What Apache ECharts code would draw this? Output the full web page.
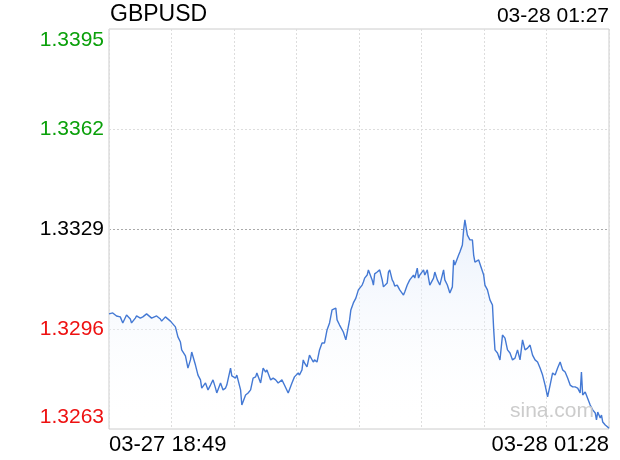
<!DOCTYPE html>
<html>
<head>
<meta charset="utf-8">
<script src="https://cdn.jsdelivr.net/npm/echarts@6/dist/echarts.min.js"></script>
<style>
  html, body { margin: 0; padding: 0; background: #fff; }
  #chart { width: 620px; height: 460px; }
</style>
</head>
<body>
<div id="chart"></div>
<script>
// minutes after 03-27 18:49
const minutes = [
  0, 3, 6, 9, 11, 14, 17, 18, 21, 22, 25, 27, 30, 31, 34, 35, 38, 39, 41, 42,
  45, 46, 49, 50, 53, 55, 57, 58, 61, 63, 65, 66, 69, 71, 73, 74, 77, 79, 81, 83,
  85, 86, 89, 91, 93, 94, 97, 98, 101, 102, 105, 106, 109, 111, 113, 115, 117, 118, 121, 123,
  125, 126, 129, 131, 133, 135, 138, 140, 143, 146, 148, 151, 152, 154, 155, 156, 158, 160, 163, 164,
  166, 168, 170, 172, 174, 176, 178, 181, 182, 184, 187, 189, 192, 193, 195, 197, 199, 200, 202, 203,
  204, 206, 207, 208, 210, 211, 212, 214, 216, 218, 219, 220, 222, 223, 224, 226, 227, 228, 230, 232,
  235, 236, 238, 240, 243, 244, 246, 247, 248, 251, 252, 254, 255, 256, 259, 260, 262, 264, 267, 268,
  270, 272, 274, 275, 276, 279, 280, 282, 283, 284, 286, 288, 290, 291, 292, 295, 296, 299, 300, 302,
  304, 306, 307, 308, 310, 312, 314, 316, 318, 320, 322, 324, 326, 328, 330, 332, 334, 336, 338, 340,
  342, 344, 346, 348, 350, 352, 354, 356, 358, 360, 362, 364, 366, 368, 370, 372, 374, 376, 377, 378,
  380, 381, 384, 386, 388, 389, 390, 392, 393, 394, 396, 397, 399
];
const prices = [
  1.33010, 1.33013, 1.33003, 1.33000, 1.32980, 1.33006, 1.32993, 1.32980, 1.32996, 1.33003,
  1.32996, 1.33000, 1.33010, 1.33013, 1.32996, 1.32990, 1.33003, 1.33003, 1.32993, 1.32986,
  1.33000, 1.33006, 1.32986, 1.32983, 1.32967, 1.32934, 1.32917, 1.32891, 1.32871, 1.32831,
  1.32858, 1.32884, 1.32841, 1.32808, 1.32792, 1.32765, 1.32782, 1.32759, 1.32775, 1.32792,
  1.32765, 1.32749, 1.32782, 1.32759, 1.32765, 1.32775, 1.32831, 1.32805, 1.32798, 1.32808,
  1.32759, 1.32709, 1.32742, 1.32749, 1.32759, 1.32798, 1.32802, 1.32815, 1.32782, 1.32831,
  1.32818, 1.32825, 1.32792, 1.32798, 1.32792, 1.32782, 1.32792, 1.32775, 1.32749, 1.32782,
  1.32802, 1.32815, 1.32808, 1.32825, 1.32858, 1.32848, 1.32835, 1.32874, 1.32851, 1.32858,
  1.32851, 1.32891, 1.32914, 1.32914, 1.32957, 1.32980, 1.33023, 1.33029, 1.32990, 1.32973,
  1.32950, 1.32924, 1.32990, 1.33023, 1.33046, 1.33062, 1.33089, 1.33095, 1.33105, 1.33115,
  1.33128, 1.33138, 1.33155, 1.33155, 1.33122, 1.33105, 1.33142, 1.33148, 1.33155, 1.33122,
  1.33099, 1.33105, 1.33112, 1.33148, 1.33155, 1.33122, 1.33115, 1.33102, 1.33105, 1.33089,
  1.33072, 1.33082, 1.33105, 1.33122, 1.33138, 1.33128, 1.33161, 1.33128, 1.33138, 1.33155,
  1.33138, 1.33155, 1.33128, 1.33105, 1.33128, 1.33148, 1.33122, 1.33105, 1.33155, 1.33122,
  1.33105, 1.33079, 1.33099, 1.33188, 1.33171, 1.33204, 1.33214, 1.33237, 1.33287, 1.33320,
  1.33270, 1.33254, 1.33254, 1.33204, 1.33181, 1.33188, 1.33188, 1.33138, 1.33105, 1.33089,
  1.33056, 1.33039, 1.32957, 1.32891, 1.32881, 1.32858, 1.32940, 1.32930, 1.32891, 1.32881,
  1.32858, 1.32864, 1.32891, 1.32858, 1.32924, 1.32891, 1.32897, 1.32907, 1.32874, 1.32858,
  1.32851, 1.32831, 1.32808, 1.32775, 1.32736, 1.32775, 1.32815, 1.32808, 1.32831, 1.32851,
  1.32825, 1.32818, 1.32798, 1.32775, 1.32769, 1.32769, 1.32765, 1.32749, 1.32818, 1.32742,
  1.32752, 1.32749, 1.32709, 1.32693, 1.32683, 1.32660, 1.32686, 1.32666, 1.32676, 1.32653,
  1.32643, 1.32637, 1.32633
];
const prevClose = 1.3329;
const yMin = 1.3263;
const yMax = 1.3395;
const yStep = 0.0033;
const timeLabels = ['03-27 18:49', '03-28 01:28'];
const symbol = 'GBPUSD';
const quoteTime = '03-28 01:27';

const FONT = "'Liberation Sans', Arial, Helvetica, sans-serif";
const chart = echarts.init(document.getElementById('chart'));

const seriesData = minutes.map((m, i) => [m, prices[i]]);

chart.setOption({
  animation: false,
  textStyle: { fontFamily: FONT },
  title: [
    {
      text: symbol, left: 110, top: 3, padding: 0,
      textStyle: { fontFamily: FONT, fontSize: 23, fontWeight: 'normal', color: '#000' }
    },
    {
      text: quoteTime, right: 11, top: 6, padding: 0,
      textStyle: { fontFamily: FONT, fontSize: 21, fontWeight: 'normal', color: '#000' }
    }
  ],
  graphic: [{
    type: 'text', right: 26, top: 401, z: 10, silent: true,
    style: { text: 'sina.com', fontFamily: FONT, fontSize: 21, fill: '#cccccc' }
  }],
  grid: {
    left: 109, top: 29, width: 500, height: 400,
    show: true, borderColor: '#cccccc', borderWidth: 1, backgroundColor: '#fff'
  },
  xAxis: {
    type: 'value',
    min: 0,
    max: minutes[minutes.length - 1],
    interval: minutes[minutes.length - 1] / 8,
    axisLine: { show: false },
    axisTick: { show: false },
    splitLine: { show: true, lineStyle: { color: '#dddddd', type: [2, 2], width: 1 } },
    axisLabel: {
      customValues: [0, minutes[minutes.length - 1]],
      alignMinLabel: 'left',
      alignMaxLabel: 'right',
      margin: 5,
      fontSize: 22,
      color: '#000',
      fontFamily: FONT,
      formatter: v => (v === 0 ? timeLabels[0] : timeLabels[1])
    }
  },
  yAxis: {
    type: 'value',
    min: yMin,
    max: yMax,
    interval: yStep,
    axisLine: { show: false },
    axisTick: { show: false },
    splitLine: {
      show: true,
      lineStyle: {
        color: ['rgba(0,0,0,0)', '#dddddd', '#aaaaaa', '#dddddd', 'rgba(0,0,0,0)'],
        type: [2, 2],
        width: 1
      }
    },
    axisLabel: {
      margin: 5,
      fontSize: 21,
      fontFamily: FONT,
      formatter: v => {
        const t = v.toFixed(4);
        const key = Math.abs(v - prevClose) < 1e-6 ? 'k' : (v > prevClose ? 'g' : 'r');
        if (Math.abs(v - yMin) < 1e-6) return '{lo|' + t + '}';
        if (Math.abs(v - yMax) < 1e-6) return '{hi|' + t + '}';
        return '{' + key + '|' + t + '}';
      },
      rich: {
        k: { color: '#000', fontSize: 21, fontFamily: FONT },
        g: { color: '#0aa00a', fontSize: 21, fontFamily: FONT },
        r: { color: '#ee1111', fontSize: 21, fontFamily: FONT },
        hi: { color: '#0aa00a', fontSize: 21, fontFamily: FONT, padding: [22, 0, 0, 0] },
        lo: { color: '#ee1111', fontSize: 21, fontFamily: FONT, padding: [0, 0, 24, 0] }
      }
    }
  },
  series: [{
    type: 'line',
    data: seriesData,
    showSymbol: false,
    sampling: 'none',
    lineStyle: { color: '#4479d4', width: 1.4 },
    itemStyle: { color: '#4479d4' },
    areaStyle: {
      color: new echarts.graphic.LinearGradient(0, 0, 0, 1, [
        { offset: 0, color: 'rgba(222,233,250,0.95)' },
        { offset: 1, color: 'rgba(255,255,255,0)' }
      ])
    },
    z: 3
  }]
});
</script>
</body>
</html>
